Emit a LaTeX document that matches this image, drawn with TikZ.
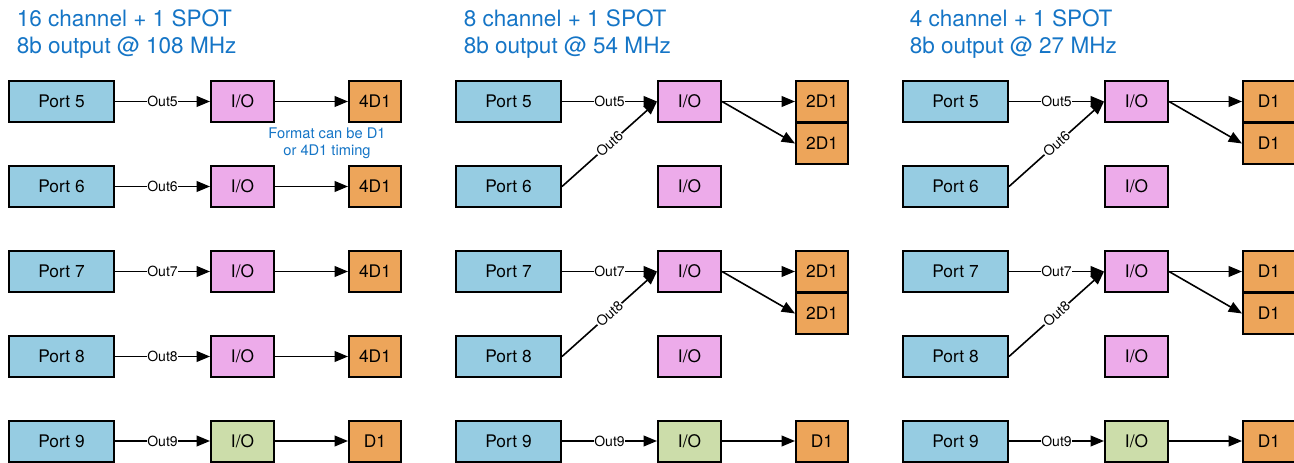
\documentclass[tikz,border=0pt]{standalone}
\usepackage{fontspec}
\setmainfont{TeX Gyre Heros}
\usepackage{tikz}
\usetikzlibrary{arrows.meta,positioning}
\definecolor{portblue}{RGB}{150,204,226}
\definecolor{iopink}{RGB}{237,171,234}
\definecolor{iogreen}{RGB}{204,221,170}
\definecolor{fmtorange}{RGB}{237,165,90}
\definecolor{titleblue}{RGB}{21,117,198}

\tikzset{
  box/.style={draw,line width=1.5pt,inner sep=0pt,minimum height=30.75pt,font=\fontsize{13}{15}\selectfont},
  port/.style={box,fill=portblue,minimum width=78.75pt},
  iobox/.style={box,fill=iopink,minimum width=47.25pt},
  iogr/.style={box,fill=iogreen,minimum width=47.25pt},
  fmtbox/.style={box,fill=fmtorange,minimum width=39pt},
  outlbl/.style={fill=white,inner sep=0.6pt,font=\fontsize{10.5}{12}\selectfont},
  title/.style={anchor=west,align=left,inner sep=0pt,text=titleblue,font=\fontsize{16.9}{20.3}\selectfont},
  note/.style={align=center,inner sep=0pt,text=titleblue,font=\fontsize{11}{13}\selectfont}
}

\begin{document}
\begin{tikzpicture}[x=0.75pt,y=-0.75pt,line width=1.2pt,>={Triangle[length=10pt,width=8pt]}]
  \useasboundingbox (0,0) rectangle (1294,463);

  % titles
  \node[title] (ta) at (16,34) {16 channel + 1 SPOT\\8b output @ 108 MHz};
  \node[title] (tb) at (463,34) {8 channel + 1 SPOT\\8b output @ 54 MHz};
  \node[title] (tc) at (909,34) {4 channel + 1 SPOT\\8b output @ 27 MHz};

  % 16 channel
  \foreach \n/\y in {5/101.5,6/186.5,7/271.5,8/356.5} {
    \node[port] (pa\n) at (61.5,\y) {Port \n};
    \node[iobox] (ioa\n) at (242.5,\y) {I/O};
    \node[fmtbox] (da\n) at (375,\y) {4D1};
    \draw[->] (pa\n) -- node[outlbl]{Out\n} (ioa\n);
    \draw[->] (ioa\n) -- (da\n);
  }
  \node[note] (fmtnote) at (327,143.5) {Format can be D1\\or 4D1 timing};

  % 8 and 4 channel
  \foreach \p/\dx/\fmt in {b/447/2D1,c/894/D1} {
    \foreach \n/\m/\y in {5/6/101.5,7/8/271.5} {
      \node[port] (p\p\n) at (61.5+\dx,\y) {Port \n};
      \node[port] (p\p\m) at (61.5+\dx,\y+85) {Port \m};
      \node[iobox] (io\p\n) at (242.5+\dx,\y) {I/O};
      \node[iobox] (io\p\m) at (242.5+\dx,\y+85) {I/O};
      \node[fmtbox] (d\p\n) at (375+\dx,\y) {\fmt};
      \node[fmtbox] (d\p\m) at (375+\dx,\y+42) {\fmt};
      \draw[->] (p\p\n) -- node[outlbl]{Out\n} (io\p\n);
      \draw[->] (p\p\m.east) -- node[outlbl,sloped]{Out\m} (io\p\n.west);
      \draw[->] (io\p\n.east) -- (d\p\n.west);
      \draw[->] (io\p\n.east) -- (d\p\m.west);
    }
  }

  % SPOT row
  \foreach \p/\dx in {a/0,b/447,c/894} {
    \node[port] (p\p9) at (61.5+\dx,441) {Port 9};
    \node[iogr] (io\p9) at (242.5+\dx,441) {I/O};
    \node[fmtbox] (d\p9) at (375+\dx,441) {D1};
    \draw[->] (p\p9) -- node[outlbl]{Out9} (io\p9);
    \draw[->] (io\p9) -- (d\p9);
  }
\end{tikzpicture}
\end{document}
